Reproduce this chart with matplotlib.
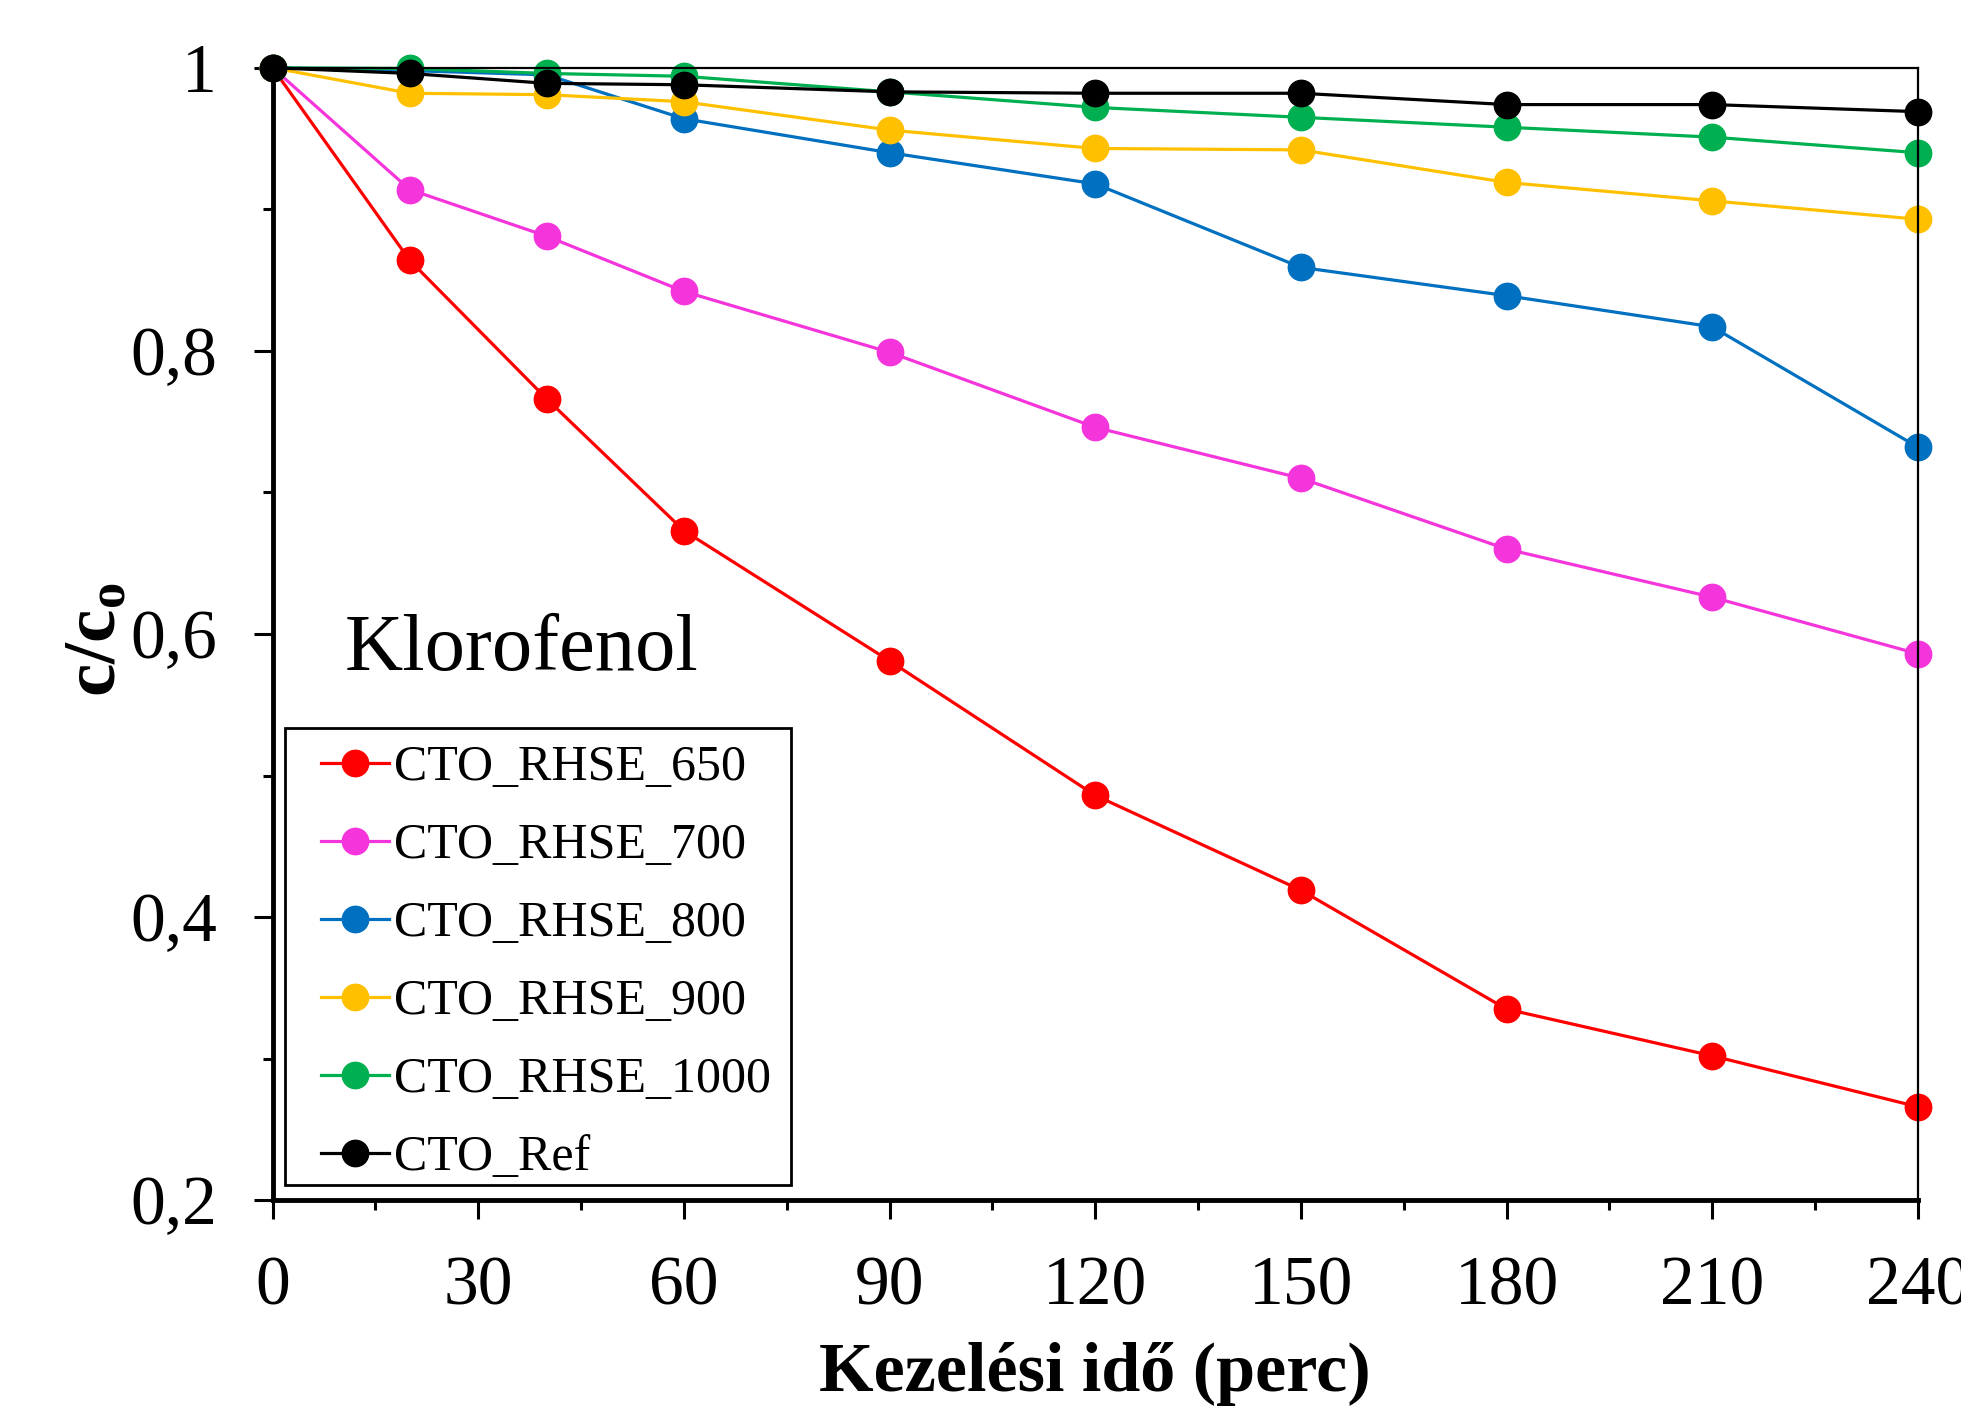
import numpy as np
import matplotlib
matplotlib.use('Agg')
import matplotlib.pyplot as plt
from matplotlib.ticker import MultipleLocator
from matplotlib.patches import Rectangle

# Times-like fonts for everything
matplotlib.rcParams.update({'font.family': 'Liberation Serif',
                            'mathtext.fontset': 'custom',
                            'mathtext.rm': 'Liberation Serif',
                            'mathtext.bf': 'Liberation Serif:bold'})

# Treatment time (min)
time = [0, 20, 40, 60, 90, 120, 150, 180, 210, 240]

# c/c0 values
cto_650 = [1.0, 0.864, 0.766, 0.673, 0.581, 0.486, 0.419, 0.335, 0.302, 0.266]
cto_700 = [1.0, 0.914, 0.881, 0.842, 0.799, 0.746, 0.710, 0.660, 0.626, 0.586]
cto_800 = [1.0, 0.998, 0.995, 0.964, 0.940, 0.918, 0.859, 0.839, 0.817, 0.732]
cto_900 = [1.0, 0.982, 0.981, 0.976, 0.956, 0.943, 0.942, 0.919, 0.906, 0.893]
cto_1000 = [1.0, 0.9995, 0.996, 0.994, 0.983, 0.972, 0.965, 0.958, 0.951, 0.940]
cto_ref = [1.0, 0.996, 0.989, 0.988, 0.983, 0.982, 0.982, 0.974, 0.974, 0.969]

series = [cto_650, cto_700, cto_800, cto_900, cto_1000, cto_ref]
labels = ['CTO_RHSE_650', 'CTO_RHSE_700', 'CTO_RHSE_800',
          'CTO_RHSE_900', 'CTO_RHSE_1000', 'CTO_Ref']
colors = ['#FF0000', '#F535DC', '#0070C0', '#FFC000', '#00B050', '#000000']

ytick_vals = [0.2, 0.4, 0.6, 0.8, 1.0]
ytick_labels = ['0,2', '0,4', '0,6', '0,8', '1']

fig = plt.figure(figsize=(19.61, 14.12), dpi=100)
ax = fig.add_axes([0.139, 0.150, 0.839, 0.802])

for y, lab, c in zip(series, labels, colors):
    ax.plot(time, y, color=c, lw=2.3, marker='o', ms=19, label=lab, clip_on=False)

ax.set_xlim(0, 240)
ax.set_ylim(0.2, 1.0)
ax.xaxis.set_major_locator(MultipleLocator(30))
ax.xaxis.set_minor_locator(MultipleLocator(15))
ax.yaxis.set_minor_locator(MultipleLocator(0.1))
ax.set_yticks(ytick_vals)
ax.set_yticklabels(ytick_labels)

ax.tick_params(which='major', direction='out', length=14, width=2.2, labelsize=50, pad=26)
ax.tick_params(which='minor', direction='out', length=7, width=2.2)

for s in ['left', 'bottom']:
    ax.spines[s].set_linewidth(3.5)
for s in ['top', 'right']:
    ax.spines[s].set_linewidth(1.6)

ax.set_xlabel('Kezelési idő (perc)', fontsize=50.5, fontweight='bold')
ax.set_ylabel(r'$\mathbf{c/c_o}$', fontsize=54)
ax.xaxis.set_label_coords(0.5, -0.125)
ax.yaxis.set_label_coords(-0.086, 0.495)

ax.text(10.5, 0.588, 'Klorofenol', fontsize=58, va='center', ha='left')

# legend without its own frame; frame drawn as a rectangle in axes coords
leg = ax.legend(loc='center left', bbox_to_anchor=(0.0297, 0.2095), fontsize=36,
                frameon=False, handlelength=1.35, handletextpad=0.1,
                labelspacing=0.63, borderaxespad=0, borderpad=0)
ax.add_patch(Rectangle((0.0076, 0.0132), 0.3076, 0.404, transform=ax.transAxes,
                       fill=False, edgecolor='black', lw=2.0, zorder=5))

fig.savefig('out.png', dpi=100)
